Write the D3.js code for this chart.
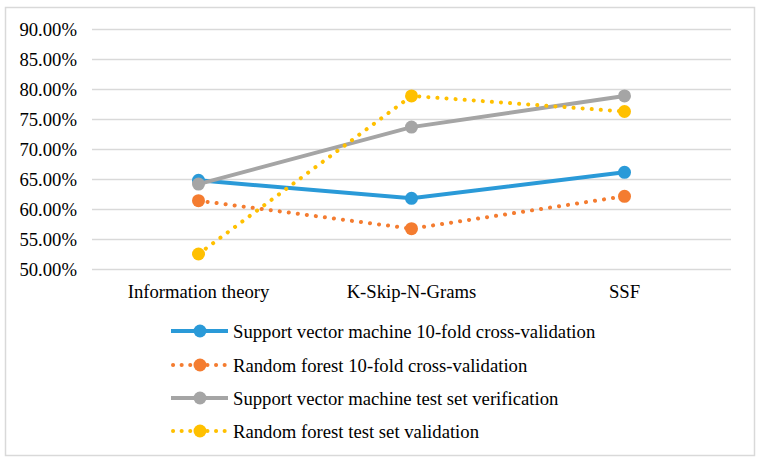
<!DOCTYPE html>
<html><head><meta charset="utf-8">
<script src="https://cdn.jsdelivr.net/npm/d3@7"></script>
<style>
body{margin:0;background:#fff}
svg{display:block}
svg text{font-family:"Liberation Serif","Times New Roman",Tinos,serif !important;font-size:18.7px;fill:#000}
</style>
</head><body>
<script>
const categories = ["Information theory", "K-Skip-N-Grams", "SSF"];
const yTicks = [0.50, 0.55, 0.60, 0.65, 0.70, 0.75, 0.80, 0.85, 0.90];
const seriesNames = [
  "Support vector machine 10-fold cross-validation",
  "Random forest 10-fold cross-validation",
  "Support vector machine test set verification",
  "Random forest test set validation"
];
const svmCV = [0.6483, 0.6183, 0.6617];
const rfCV = [0.6143, 0.5677, 0.6217];
const svmTest = [0.6420, 0.7370, 0.7890];
const rfTest = [0.5255, 0.7890, 0.7630];
const colors = ["#2a9ad8", "#f47c30", "#a5a5a5", "#ffc000"];
const dotted = [false, true, false, true];
const seriesValues = [svmCV, rfCV, svmTest, rfTest];

const W = 761, H = 463;
const svg = d3.select("body").append("svg").attr("width", W).attr("height", H)
  .attr("font-family", "Liberation Serif, serif");
svg.append("rect").attr("x", 5.5).attr("y", 7.5).attr("width", 749).attr("height", 448)
  .attr("fill", "#fff").attr("stroke", "#d9d9d9").attr("stroke-width", 1.5);

const x = d3.scaleBand().domain(categories).range([92, 731]);
const y = d3.scaleLinear().domain([0.5, 0.9]).range([269.3, 29.3]);

// gridlines
svg.append("g").selectAll("line").data(yTicks).join("line")
  .attr("x1", 92).attr("x2", 731)
  .attr("y1", d => Math.round(y(d)) + 0.5).attr("y2", d => Math.round(y(d)) + 0.5)
  .attr("stroke", "#d9d9d9").attr("stroke-width", 1.3);

// y axis labels
const yAxis = d3.axisLeft(y).tickValues(yTicks).tickSize(0).tickPadding(0)
  .tickFormat(d => (d * 100).toFixed(2) + "%");
const ga = svg.append("g").attr("transform", "translate(77,0)").call(yAxis);
ga.select(".domain").remove();
ga.attr("font-family", null).attr("font-size", null);

// x axis labels
const xAxis = d3.axisBottom(x).tickSize(0).tickPadding(0);
const gx = svg.append("g").attr("transform", "translate(0,285)").call(xAxis);
gx.select(".domain").remove();
gx.attr("font-family", null).attr("font-size", null);

const line = d3.line().x((d, i) => x(categories[i]) + x.bandwidth() / 2).y(d => y(d));

seriesValues.forEach((vals, s) => {
  const g = svg.append("g");
  g.append("path").datum(vals).attr("d", line).attr("fill", "none")
    .attr("stroke", colors[s]).attr("stroke-width", 4)
    .attr("stroke-linecap", dotted[s] ? "round" : "butt")
    .attr("stroke-dasharray", dotted[s] ? "0.1 9" : null);
  g.selectAll("circle").data(vals).join("circle")
    .attr("cx", (d, i) => x(categories[i]) + x.bandwidth() / 2)
    .attr("cy", d => y(d)).attr("r", 6.5).attr("fill", colors[s]);
});

// legend
const legY = [331, 365, 398, 431];
seriesNames.forEach((name, s) => {
  const g = svg.append("g").attr("transform", `translate(0,${legY[s]})`);
  g.append("line").attr("x1", dotted[s] ? 173 : 171).attr("x2", 228).attr("y1", 0).attr("y2", 0)
    .attr("stroke", colors[s]).attr("stroke-width", 4)
    .attr("stroke-linecap", dotted[s] ? "round" : "butt")
    .attr("stroke-dasharray", dotted[s] ? "0.1 8.5" : null);
  g.append("circle").attr("cx", 200).attr("cy", 0).attr("r", 6.5).attr("fill", colors[s]);
  g.append("text").attr("x", 233).attr("y", 6.5).text(name);
});
</script>
</body></html>
